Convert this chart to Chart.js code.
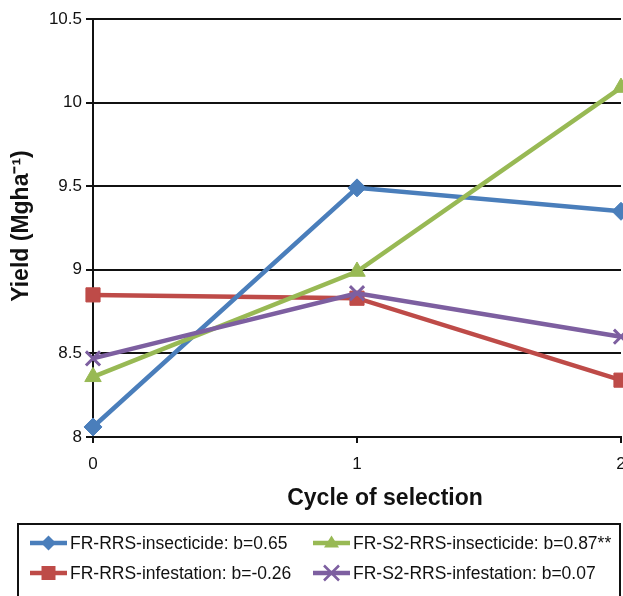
<!DOCTYPE html>
<html>
<head>
<meta charset="utf-8">
<script src="https://cdn.jsdelivr.net/npm/chart.js@4/dist/chart.umd.min.js"></script>
<style>
html,body{margin:0;padding:0;background:#fff;overflow:hidden;}
#wrap{position:relative;width:623px;height:596px;overflow:hidden;}
#c{position:absolute;left:0;top:0;}
</style>
</head>
<body>
<div id="wrap"><canvas id="c" width="660" height="596"></canvas></div>
<script>
const categories = ['0', '1', '2'];
const frRrsInsecticide = [8.06, 9.49, 9.35];
const frRrsInfestation = [8.85, 8.83, 8.34];
const frS2RrsInsecticide = [8.36, 8.99, 10.09];
const frS2RrsInfestation = [8.47, 8.86, 8.60];
const seriesLabels = [
  'FR-RRS-insecticide: b=0.65',
  'FR-RRS-infestation: b=-0.26',
  'FR-S2-RRS-insecticide: b=0.87**',
  'FR-S2-RRS-infestation: b=0.07'
];
const yTitle = 'Yield (Mgha\u207B\u00B9)';
const xTitle = 'Cycle of selection';

const FONT = '"Liberation Sans", Arial, Helvetica, sans-serif';
const colors = ['#4A7EBB', '#BE4B48', '#98B954', '#7D5FA0'];
const styles = ['rectRot', 'rect', 'triangle', 'crossRot'];
const radii = [9, 10, 9.5, 10];
const allData = [frRrsInsecticide, frRrsInfestation, frS2RrsInsecticide, frS2RrsInfestation];

const datasets = allData.map((d, i) => ({
  label: seriesLabels[i],
  data: d,
  borderColor: colors[i],
  backgroundColor: colors[i],
  borderWidth: 4.5,
  pointStyle: styles[i],
  pointRadius: radii[i],
  pointHoverRadius: radii[i],
  pointBorderWidth: i === 3 ? 3 : 1,
  pointBorderColor: colors[i],
  pointBackgroundColor: colors[i],
  tension: 0,
  clip: false
}));
datasets[0].order = 2; datasets[1].order = 3; datasets[2].order = 1; datasets[3].order = 0;

function drawMarker(ctx, style, x, y, r, color) {
  ctx.save();
  ctx.fillStyle = color; ctx.strokeStyle = color;
  ctx.beginPath();
  if (style === 'rectRot') {
    ctx.moveTo(x, y - r); ctx.lineTo(x + r, y); ctx.lineTo(x, y + r); ctx.lineTo(x - r, y); ctx.closePath(); ctx.fill();
  } else if (style === 'rect') {
    ctx.rect(x - r, y - r, 2 * r, 2 * r); ctx.fill();
  } else if (style === 'triangle') {
    ctx.moveTo(x, y - r); ctx.lineTo(x + r, y + r * 0.6); ctx.lineTo(x - r, y + r * 0.6); ctx.closePath(); ctx.fill();
  } else {
    ctx.lineWidth = 2.5;
    ctx.moveTo(x - r, y - r); ctx.lineTo(x + r, y + r);
    ctx.moveTo(x + r, y - r); ctx.lineTo(x - r, y + r); ctx.stroke();
  }
  ctx.restore();
}

const extras = {
  id: 'extras',
  afterDraw(chart) {
    const ctx = chart.ctx;
    ctx.save();
    ctx.fillStyle = '#111';
    ctx.font = 'bold 23px ' + FONT;
    ctx.textAlign = 'center'; ctx.textBaseline = 'middle';
    ctx.fillText(xTitle, 385, 499);
    ctx.translate(22, 226);
    ctx.rotate(-Math.PI / 2);
    ctx.font = 'bold 23px ' + FONT;
    ctx.fillText(yTitle, 0, 0);
    ctx.restore();

    ctx.save();
    ctx.strokeStyle = '#111'; ctx.lineWidth = 2;
    ctx.strokeRect(18, 524, 602, 90);
    const order = [0, 2, 1, 3];
    const pos = [[30, 543], [313, 543], [30, 573], [313, 573]];
    ctx.font = '17.5px ' + FONT;
    ctx.textAlign = 'left'; ctx.textBaseline = 'middle';
    order.forEach((di, k) => {
      const [lx, ly] = pos[k];
      ctx.strokeStyle = colors[di]; ctx.lineWidth = 4.5;
      ctx.beginPath(); ctx.moveTo(lx, ly); ctx.lineTo(lx + 37, ly); ctx.stroke();
      drawMarker(ctx, styles[di], lx + 18.5, ly, di === 1 ? 7 : 7.5, colors[di]);
      ctx.fillStyle = '#111';
      ctx.fillText(seriesLabels[di], lx + 40, ly + 1);
    });
    ctx.restore();
  }
};

new Chart(document.getElementById('c'), {
  type: 'line',
  data: { labels: categories, datasets },
  plugins: [extras],
  options: {
    responsive: false,
    animation: false,
    events: [],
    layout: { padding: { top: 19, right: 39, left: 0, bottom: 0 } },
    plugins: { legend: { display: false }, tooltip: { enabled: false } },
    scales: {
      x: {
        type: 'category',
        offset: false,
        afterFit(s) { s.height = 159; },
        grid: { drawOnChartArea: false, drawTicks: true, tickLength: 6, color: '#111', lineWidth: 2 },
        border: { color: '#111', width: 2 },
        ticks: { color: '#111', font: { family: FONT, size: 17 }, padding: 11, maxRotation: 0 }
      },
      y: {
        min: 8, max: 10.5,
        afterFit(s) { s.width = 93; },
        grid: { color: '#111', lineWidth: 2, tickLength: 7, drawTicks: true },
        border: { color: '#111', width: 2 },
        ticks: { stepSize: 0.5, color: '#111', font: { family: FONT, size: 17 }, padding: 4,
                 callback: (v) => String(Math.round(v * 10) / 10) }
      }
    }
  }
});
</script>
</body>
</html>
